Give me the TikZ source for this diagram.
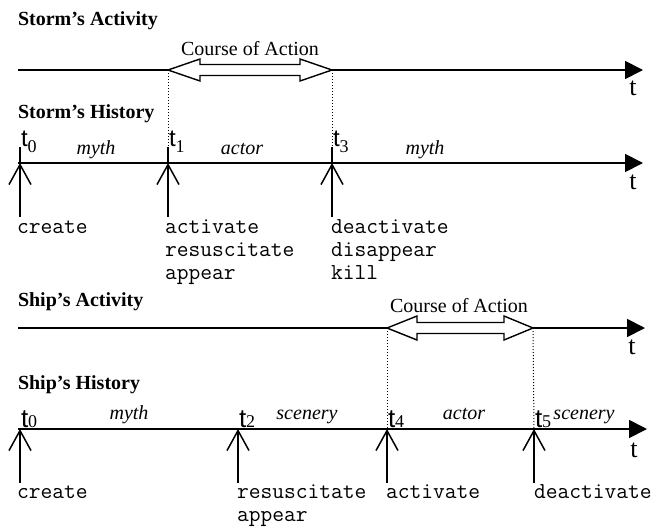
\documentclass[tikz,border=0pt]{standalone}
\usepackage{fontspec}
\setmainfont{Liberation Serif}
\setsansfont{Liberation Sans}
\usetikzlibrary{arrows.meta}

% time point label: sans "t" with a serif subscript; #1 = drop of the subscript, #2 = size of the t
\newcommand{\tpoint}[3]{{\sffamily\fontsize{#2}{#2}\selectfont t}\raisebox{-#1}{\fontsize{18}{18}\selectfont #3}}

\begin{document}
\begin{tikzpicture}[x=1pt,y=-1pt,
  every node/.style={inner sep=0pt, outer sep=0pt},
  title/.style={font=\fontsize{20}{20}\selectfont\bfseries, anchor=base west},
  phase/.style={font=\fontsize{20}{20}\selectfont\itshape, anchor=base},
  coatext/.style={font=\fontsize{20}{20}\selectfont, anchor=base},
  ops/.style={font=\fontsize{22.85}{23}\selectfont\ttfamily, align=left, anchor=base west},
  tlabel/.style={anchor=base west},
  axislabel/.style={font=\fontsize{26}{26}\selectfont, anchor=center},
  axis/.style={line width=1.8pt, -{Triangle[length=18pt,width=18pt]}},
  event/.style={line width=1.8pt, -{Straight Barb[length=20pt,width=22pt,line width=1.5pt]}},
  stub/.style={line width=1.8pt},
  guide/.style={line width=1pt, dotted},
  flow/.style={line width=1.4pt, line join=miter, fill=white}
]
\useasboundingbox (0,0) rectangle (658,527);

%% ---------------- Storm ----------------
\node[title] (stormAct) at (18,26) {Storm’s Activity};
\coordinate (sa0) at (18,70);
\coordinate (sa1) at (643,70);
\draw[axis] (sa0) -- (sa1);
\node[axislabel] (saT) at (633,88) {t};

% course of action (double block arrow)
\coordinate (sl) at (168,70);
\coordinate (sr) at (332,70);
\draw[flow] (sl) -- ++(32,-11) -- ++(0,5.5) -- ++(100,0) -- ++(0,-5.5) -- (sr)
  -- ++(-32,11) -- ++(0,-5.5) -- ++(-100,0) -- ++(0,5.5) -- cycle;
\node[coatext] (stormCoa) at (250,56) {Course of Action};

\node[title] (stormHist) at (18,118) {Storm’s History};
\coordinate (sh0) at (18,163);
\coordinate (sh1) at (643,163);
\draw[axis] (sh0) -- (sh1);
\node[axislabel] (shT) at (633,182) {t};

% event points on the storm's history
\coordinate (e0) at (20,163);
\coordinate (e1) at (168,163);
\coordinate (e3) at (332,163);
\coordinate (e0b) at (20,217);
\coordinate (e1b) at (168,217);
\coordinate (e3b) at (332,217);
\coordinate (e0t) at (20,147);
\coordinate (e1t) at (168,147);
\coordinate (e3t) at (332,147);

\draw[guide] (sl) -- (e1t);
\draw[guide] (sr) -- (e3t);
\foreach \p in {e0,e1,e3} {
  \draw[stub] (\p) -- (\p t);
  \draw[event] (\p b) -- (\p);
}

\node[tlabel] (t0s) at (21,146) {\tpoint{6pt}{24}{0}};
\node[tlabel] (t1s) at (169,146) {\tpoint{6pt}{24}{1}};
\node[tlabel] (t3s) at (333,146) {\tpoint{6pt}{24}{3}};

\node[phase] (ps1) at (96,154) {myth};
\node[phase] (ps2) at (242,154) {actor};
\node[phase] (ps3) at (425,154) {myth};

% anchored at the baseline of the last line
\node[ops] (os0) at (17,233) {create};
\node[ops] (os1) at (165,279) {activate\\resuscitate\\appear};
\node[ops] (os3) at (331,279) {deactivate\\disappear\\kill};

%% ---------------- Ship ----------------
\node[title] (shipAct) at (18,306) {Ship’s Activity};
\coordinate (pa0) at (18,328);
\coordinate (pa1) at (645,328);
\draw[axis] (pa0) -- (pa1);
\node[axislabel] (paT) at (632,347) {t};

\coordinate (pl) at (387,328);
\coordinate (pr) at (533,328);
\draw[flow] (pl) -- ++(30,-12) -- ++(0,6.5) -- ++(87,0) -- ++(0,-6.5) -- (pr)
  -- ++(-29,12) -- ++(0,-6.5) -- ++(-87,0) -- ++(0,6.5) -- cycle;
\node[coatext] (shipCoa) at (459,312) {Course of Action};

\node[title] (shipHist) at (18,389) {Ship’s History};
\coordinate (ph0) at (18,429);
\coordinate (ph1) at (647,429);
\draw[axis] (ph0) -- (ph1);
\node[axislabel] (phT) at (634,450) {t};

% event points on the ship's history
\coordinate (f0) at (20,429);
\coordinate (f2) at (238,429);
\coordinate (f4) at (387,429);
\coordinate (f5) at (534,429);
\coordinate (f0b) at (20,483);
\coordinate (f2b) at (238,483);
\coordinate (f4b) at (387,483);
\coordinate (f5b) at (534,483);

\draw[guide] (pl) -- (f4);
\draw[guide] (pr) -- (f5);
\foreach \p in {f0,f2,f4,f5} {
  \draw[event] (\p b) -- (\p);
}

\node[tlabel] (t0p) at (21,427) {\tpoint{0pt}{26}{0}};
\node[tlabel] (t2p) at (239,427) {\tpoint{0pt}{26}{2}};
\node[tlabel] (t4p) at (388,427) {\tpoint{0pt}{26}{4}};
\node[tlabel] (t5p) at (535,427) {\tpoint{0pt}{26}{5}};

\node[phase] (pp1) at (129,419) {myth};
\node[phase] (pp2) at (307,419) {scenery};
\node[phase] (pp3) at (464,419) {actor};
\node[phase] (pp4) at (584,419) {scenery};

\node[ops] (op0) at (17,498) {create};
\node[ops] (op2) at (237,521) {resuscitate\\appear};
\node[ops] (op4) at (386,498) {activate};
\node[ops] (op5) at (534,498) {deactivate};
\end{tikzpicture}
\end{document}
